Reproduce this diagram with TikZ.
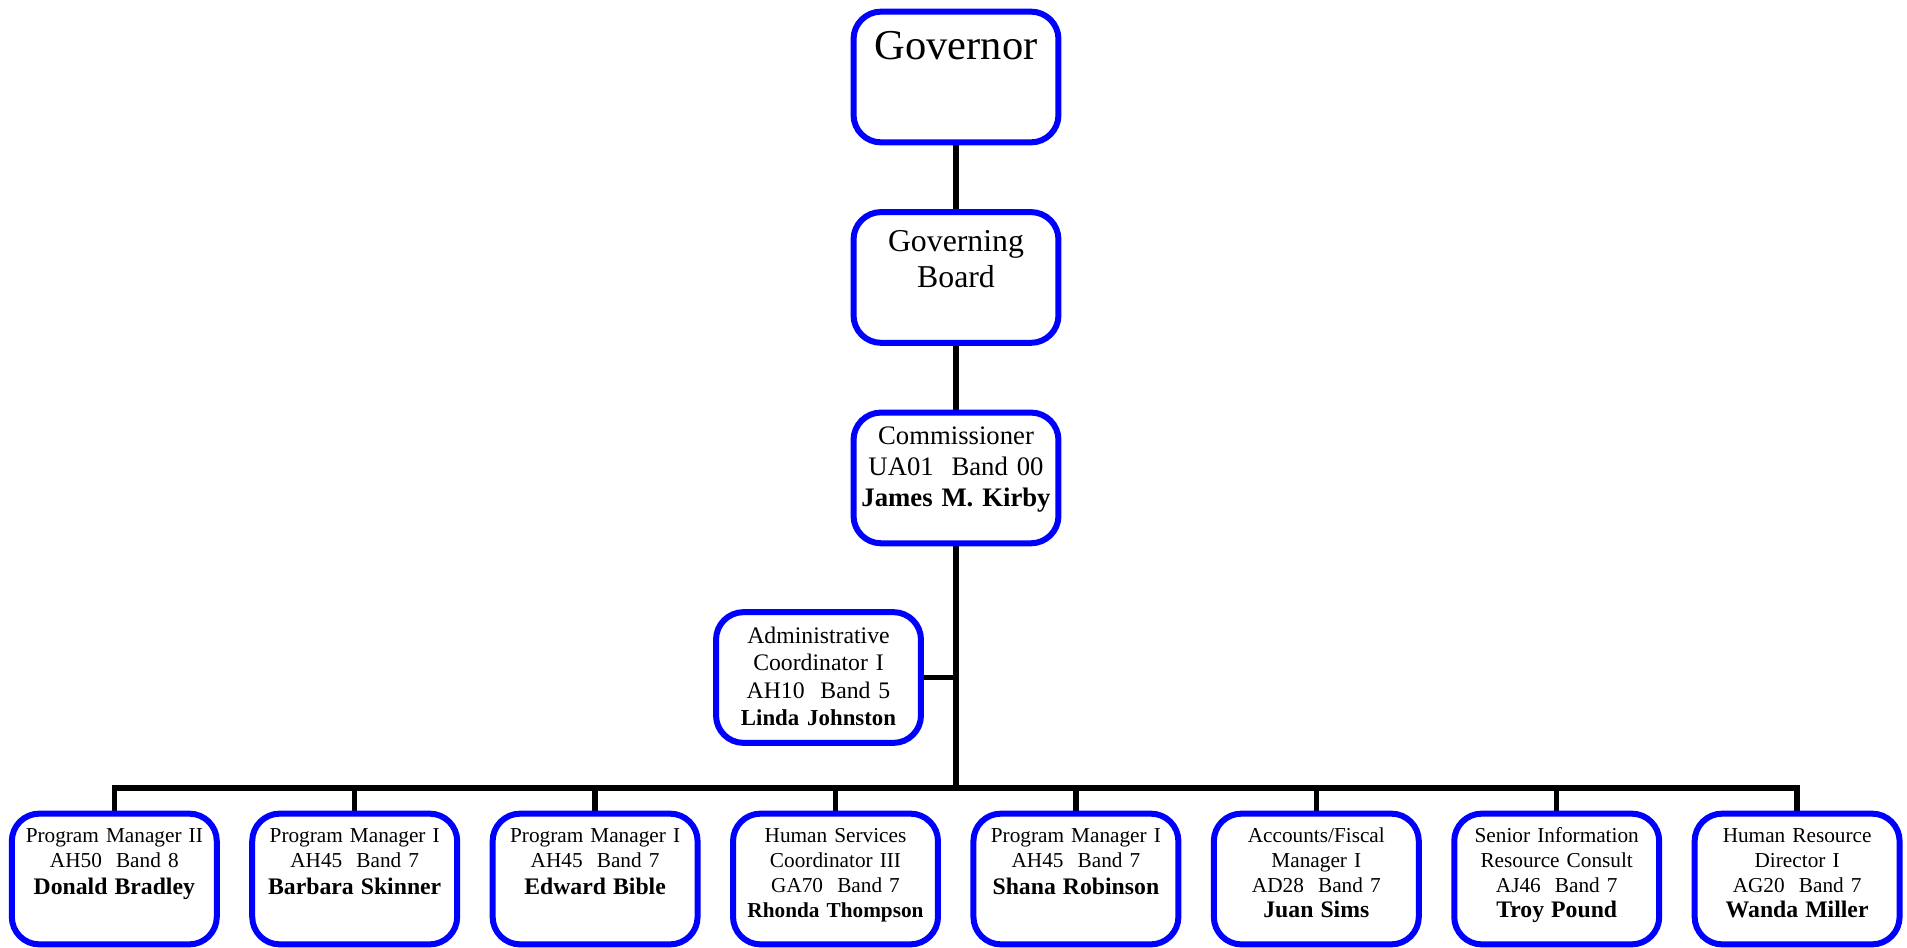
\documentclass[tikz,border=0pt]{standalone}
\usepackage{fontspec}
\setmainfont{Liberation Serif}
\usetikzlibrary{backgrounds}

\newcommand{\who}[1]{{\fontsize{13.5}{14.2}\selectfont\bfseries #1}}

\begin{document}
\begin{tikzpicture}[
  x=0.02cm, y=-0.02cm,
  node distance=4.01cm,
  box/.style={draw=blue, line width=0.12cm, rounded corners=0.55cm, fill=white,
    text width=4.1cm, align=center, inner sep=0pt},
  govbox/.style={box, text height=0.965cm, text depth=1.65cm, font=\fontsize{24.2}{27}\selectfont},
  boardbox/.style={box, text height=0.785cm, text depth=1.83cm, font=\fontsize{18.1}{20.8}\selectfont},
  chiefbox/.style={box, text height=0.645cm, text depth=1.97cm, font=\fontsize{15.2}{17.6}\selectfont},
  aidebox/.style={box, text height=0.635cm, text depth=1.98cm, font=\fontsize{13.5}{15.4}\selectfont},
  unitbox/.style={box, text height=0.575cm, text depth=2.04cm, font=\fontsize{12.1}{14.2}\selectfont},
  link/.style={-, line width=0.11cm}
  ]
\useasboundingbox (0,0) rectangle (1907,947);

% top of the chart

\node [govbox] (gov) at (956,77) {Governor};
\node [boardbox, below of=gov] (board) {Governing\\Board};
\node [chiefbox, below of=board] (chief) {Commissioner\\UA01\ \ Band 00\\\textbf{James M. Kirby}};
\node [aidebox] (aide) at (818.5,677.5) {Administrative\\Coordinator I\\AH10\ \ Band 5\\{\fontsize{13}{15.4}\selectfont\bfseries Linda Johnston}};

\coordinate (bus) at (956,788);

% second row

\node [unitbox] (pm2) at (114.3,879) {Program Manager II\\AH50\ \ Band 8\\[1.2pt]\who{Donald Bradley}};
\node [unitbox, right of=pm2, node distance=4.809cm] (pm1a) {Program Manager I\\AH45\ \ Band 7\\[1.2pt]\who{Barbara Skinner}};
\node [unitbox, right of=pm1a, node distance=4.809cm] (pm1b) {Program Manager I\\AH45\ \ Band 7\\[1.2pt]\who{Edward Bible}};
\node [unitbox, right of=pm1b, node distance=4.809cm] (hsc) {Human Services\\Coordinator III\\GA70\ \ Band 7\\\textbf{Rhonda Thompson}};
\node [unitbox, right of=hsc, node distance=4.809cm] (pm1c) {Program Manager I\\AH45\ \ Band 7\\[1.2pt]\who{Shana Robinson}};
\node [unitbox, right of=pm1c, node distance=4.809cm] (afm) {Accounts/Fiscal\\Manager I\\AD28\ \ Band 7\\\who{Juan Sims}};
\node [unitbox, right of=afm, node distance=4.809cm] (sirc) {Senior Information\\Resource Consult\\AJ46\ \ Band 7\\\who{Troy Pound}};
\node [unitbox, right of=sirc, node distance=4.809cm] (hrd) {Human Resource\\Director I\\AG20\ \ Band 7\\\who{Wanda Miller}};

%connection

\begin{scope}[on background layer]
\draw [link] (gov) -- (board);
\draw [link] (board) -- (chief);
\draw [link] (chief) -- (bus);
\draw [link] (aide) -- (aide -| bus);
\draw [link] (pm2) |- (bus) -| (hrd);
\foreach \u in {pm1a, pm1b, hsc, pm1c, afm, sirc}
  \draw [link] (\u) -- (\u |- bus);
\end{scope}

\end{tikzpicture}
\end{document}
